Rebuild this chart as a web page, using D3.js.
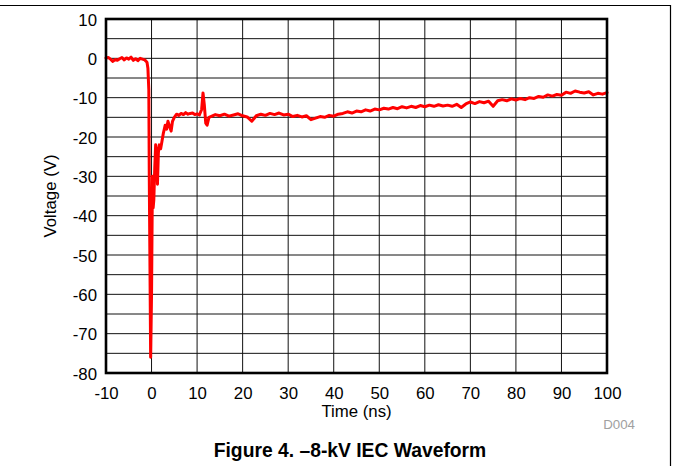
<!DOCTYPE html>
<html>
<head>
<meta charset="utf-8">
<script src="https://cdn.jsdelivr.net/npm/d3@7"></script>
<style>
html,body{margin:0;padding:0;background:#fff;}
svg{display:block;font-family:"Liberation Sans",Arial,sans-serif;}
</style>
</head>
<body>
<svg id="chart" width="673" height="466"></svg>
<script>
// ---- data ----
const timeNs = [
 -10,-9.5,-9,-8.5,-8,-7.5,-7,-6.5,-6,-5.5,-5,-4.5,-4,-3.5,-3,-2.5,-2,-1.5,-1.0,-0.8,-0.6,-0.5,-0.3,-0.2,
 0.0,0.2,0.35,0.5,0.7,0.9,1.1,1.3,1.5,1.7,2.0,2.3,2.6,3.0,3.3,3.6,4.0,4.3,4.6,5.0,5.5,6,6.5,7,7.5,8,8.5,9,9.5,10,10.5,11,11.3,11.6,11.9,12.2,12.6,
 13,14,15,16,17,18,19,20,21,22,23,24,25,26,27,28,29,30,31,32,33,34,35,36,37,38,39,40,
 41,42,43,44,45,46,47,48,49,50,51,52,53,54,55,56,57,58,59,60,61,62,63,64,65,66,67,68,69,70,
 71,72,73,74,75,76,77,78,79,80,81,82,83,84,85,86,87,88,89,90,91,92,93,94,95,96,97,98,99,100
];
const voltageV = [
 0.1,0.2,-0.2,-0.8,-0.3,-0.5,-0.1,0.2,-0.4,0.1,-0.2,0.3,-0.5,-0.1,-0.6,0.0,-0.2,-0.4,-1.0,-2.5,-8,-30,-60,-76,
 -60,-30,-38,-36,-28,-22,-24,-32,-24,-22,-23,-21,-19,-17,-18,-16,-17.5,-18.5,-16,-15,-14.2,-14.5,-14,-14.3,-13.8,-14.2,-14,-13.9,-14.3,-14.1,-14.4,-13,-8.8,-12,-16.5,-17,-15,
 -14.8,-14.3,-14.6,-14.2,-14.7,-14.4,-14.1,-14.6,-14.9,-16.0,-14.6,-14.2,-14.5,-14.0,-14.3,-13.9,-14.4,-14.2,-14.8,-14.5,-14.9,-14.6,-15.6,-15.2,-14.8,-15.0,-14.5,-14.7,
 -14.2,-14.0,-13.6,-13.9,-13.4,-13.6,-13.1,-13.4,-12.9,-13.1,-12.7,-12.9,-12.5,-12.8,-12.3,-12.6,-12.2,-12.5,-12.0,-12.3,-11.9,-12.2,-11.8,-12.1,-11.9,-12.2,-11.7,-12.5,-11.6,-11.1,
 -11.5,-11.0,-11.3,-10.9,-12.2,-10.8,-10.5,-10.8,-10.3,-10.6,-10.2,-10.5,-10.0,-10.2,-9.7,-9.9,-9.3,-9.6,-9.2,-9.4,-8.6,-8.9,-8.3,-8.6,-8.8,-8.5,-9.3,-8.9,-9.1,-8.7
];
const xTicks = [-10,0,10,20,30,40,50,60,70,80,90,100];
const yTicks = [10,0,-10,-20,-30,-40,-50,-60,-70,-80];
const yGrid = d3.range(-80, 10.01, 5);
const xLabel = "Time (ns)";
const yLabel = "Voltage (V)";
const caption = "Figure 4. \u20138-kV IEC Waveform";
const code = "D004";

// ---- layout ----
const svg = d3.select("#chart");
const L = 106, R = 607, T = 19, B = 373;
const x = d3.scaleLinear().domain([-10, 100]).range([L, R]);
const y = d3.scaleLinear().domain([-80, 10]).range([B, T]);
const fmt = d => String(d);  // plain hyphen minus, as in the reference

// outer frame lines
svg.append("line").attr("x1", 0).attr("x2", 670.5).attr("y1", 5.5).attr("y2", 5.5)
  .attr("stroke", "#000").attr("stroke-width", 1.2);
svg.append("line").attr("x1", 670.5).attr("x2", 670.5).attr("y1", 5).attr("y2", 466)
  .attr("stroke", "#000").attr("stroke-width", 1.2);

// grid
const grid = svg.append("g");
grid.selectAll("line.h").data(yGrid).enter().append("line")
  .attr("x1", L).attr("x2", R).attr("y1", d => y(d)).attr("y2", d => y(d))
  .attr("stroke", "#111").attr("stroke-width", 1);
grid.selectAll("line.v").data(xTicks).enter().append("line")
  .attr("y1", T).attr("y2", B).attr("x1", d => x(d)).attr("x2", d => x(d))
  .attr("stroke", "#111").attr("stroke-width", 1);

// data line
const line = d3.line().x((d, i) => x(timeNs[i])).y(d => y(d));
svg.append("path").datum(voltageV)
  .attr("d", line)
  .attr("fill", "none").attr("stroke", "#ff0000").attr("stroke-width", 3)
  .attr("stroke-linejoin", "round").attr("stroke-linecap", "round");

// plot frame
svg.append("rect").attr("x", L).attr("y", T).attr("width", R - L).attr("height", B - T)
  .attr("fill", "none").attr("stroke", "#000").attr("stroke-width", 2.6);

// axes (labels only)
const xAxis = d3.axisBottom(x).tickValues(xTicks).tickSize(0).tickPadding(0).tickFormat(fmt);
const gx = svg.append("g").attr("transform", `translate(0,${B})`).call(xAxis);
gx.select(".domain").remove();
gx.selectAll("text").attr("dy", null).attr("y", 26).attr("font-size", 16.8)
  .attr("font-family", "Liberation Sans, Arial, sans-serif").attr("fill", "#000");

const yAxis = d3.axisLeft(y).tickValues(yTicks).tickSize(0).tickPadding(0).tickFormat(fmt);
const gy = svg.append("g").attr("transform", `translate(${L},0)`).call(yAxis);
gy.select(".domain").remove();
gy.selectAll("text").attr("x", -9).attr("dy", "0.36em").attr("font-size", 16.8)
  .attr("font-family", "Liberation Sans, Arial, sans-serif").attr("fill", "#000");

// titles
svg.append("text").attr("x", (L + R) / 2).attr("y", 417).attr("text-anchor", "middle")
  .attr("font-size", 16.8).text(xLabel);
svg.append("text").attr("transform", `translate(56,${(T + B) / 2}) rotate(-90)`)
  .attr("text-anchor", "middle").attr("font-size", 16.8).text(yLabel);
svg.append("text").attr("x", 635).attr("y", 429).attr("text-anchor", "end")
  .attr("font-size", 13.3).attr("fill", "#a0a0a0").text(code);
svg.append("text").attr("x", 350).attr("y", 457).attr("text-anchor", "middle")
  .attr("font-size", 19.3).attr("font-weight", "bold").text(caption);
</script>
</body>
</html>
